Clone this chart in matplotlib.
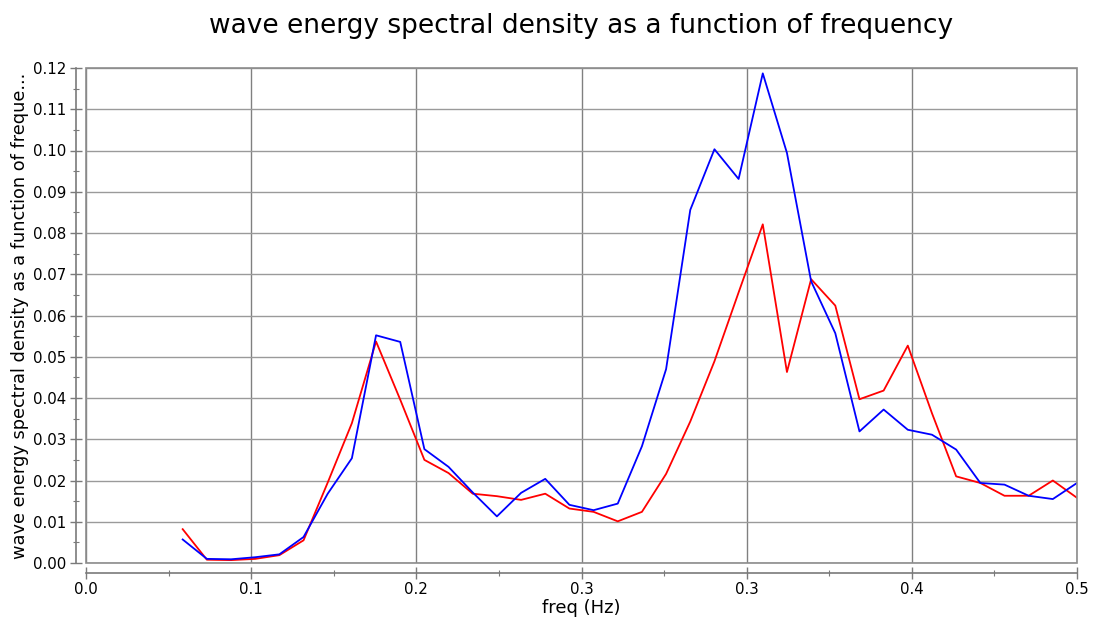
import numpy as np
import matplotlib
matplotlib.use('Agg')
import matplotlib.pyplot as plt
from matplotlib.patches import Rectangle
from matplotlib.ticker import MultipleLocator, FormatStrFormatter

# frequency bins (k/82 Hz, k = 4..41)
freq = np.arange(4, 42) / 82.0

# red series
spec_red = [0.0082, 0.0008, 0.0007, 0.0010, 0.0019, 0.0055, 0.0195, 0.0339,
            0.0537, 0.0396, 0.0250, 0.0218, 0.0168, 0.0162, 0.0153, 0.0168,
            0.0132, 0.0124, 0.0101, 0.0124, 0.0216, 0.0343, 0.0489, 0.0656,
            0.0821, 0.0463, 0.0688, 0.0624, 0.0397, 0.0418, 0.0527, 0.0363,
            0.0210, 0.0194, 0.0163, 0.0163, 0.0200, 0.0158]

# blue series
spec_blue = [0.0057, 0.0010, 0.0009, 0.0014, 0.0021, 0.0063, 0.0168, 0.0254,
             0.0552, 0.0536, 0.0276, 0.0233, 0.0171, 0.0113, 0.0170, 0.0204,
             0.0141, 0.0128, 0.0144, 0.0283, 0.0470, 0.0856, 0.1003, 0.0931,
             0.1187, 0.0994, 0.0683, 0.0557, 0.0319, 0.0372, 0.0323, 0.0311,
             0.0275, 0.0194, 0.0190, 0.0163, 0.0155, 0.0194]

xtick_pos = np.arange(0, 7) / 12.0
xtick_labels = ['0.0', '0.1', '0.2', '0.3', '0.3', '0.4', '0.5']

title = 'wave energy spectral density as a function of frequency'
ylabel = 'wave energy spectral density as a function of freque...'
xlabel = 'freq (Hz)'

plt.rcParams['font.family'] = 'DejaVu Sans'

fig = plt.figure(figsize=(10.95, 6.23), dpi=100)
ax = fig.add_axes([86 / 1095, 1 - 563 / 623, (1077 - 86) / 1095, (563 - 68) / 623])

ax.plot(freq, spec_red, color='#ff0000', lw=1.3)
ax.plot(freq, spec_blue, color='#0000ff', lw=1.3)

ax.set_xlim(0, 0.5)
ax.set_ylim(0, 0.12)

ax.set_xticks(xtick_pos)
ax.set_xticklabels(xtick_labels)
ax.xaxis.set_minor_locator(MultipleLocator(1 / 24.0))
ax.yaxis.set_major_locator(MultipleLocator(0.01))
ax.yaxis.set_minor_locator(MultipleLocator(0.005))
ax.yaxis.set_major_formatter(FormatStrFormatter('%.2f'))

axis_col = '#7a7a7a'
for side in ['top', 'right']:
    ax.spines[side].set_visible(False)
for side in ['left', 'bottom']:
    ax.spines[side].set_position(('outward', 7))
    ax.spines[side].set_color(axis_col)
    ax.spines[side].set_linewidth(1.2)

# frame round the plot area
ax.add_patch(Rectangle((0, 0), 1, 1, transform=ax.transAxes, fill=False,
                       edgecolor='#8c8c8c', lw=1.2, clip_on=False, zorder=3))

ax.tick_params(axis='both', which='major', direction='inout', length=8,
               width=1.0, color=axis_col, labelsize=10.8, pad=3)
ax.tick_params(axis='both', which='minor', direction='inout', length=4,
               width=0.8, color=axis_col)

ax.grid(True, which='major', axis='y', color='#9a9a9a', lw=1.0)
ax.grid(True, which='major', axis='x', color='#808080', lw=1.0)
ax.set_axisbelow(True)

ax.set_title(title, fontsize=19, pad=25)
ax.set_xlabel(xlabel, fontsize=13, labelpad=1)
ax.set_ylabel(ylabel, fontsize=12.8, labelpad=3)

fig.savefig('out.png', dpi=100)
